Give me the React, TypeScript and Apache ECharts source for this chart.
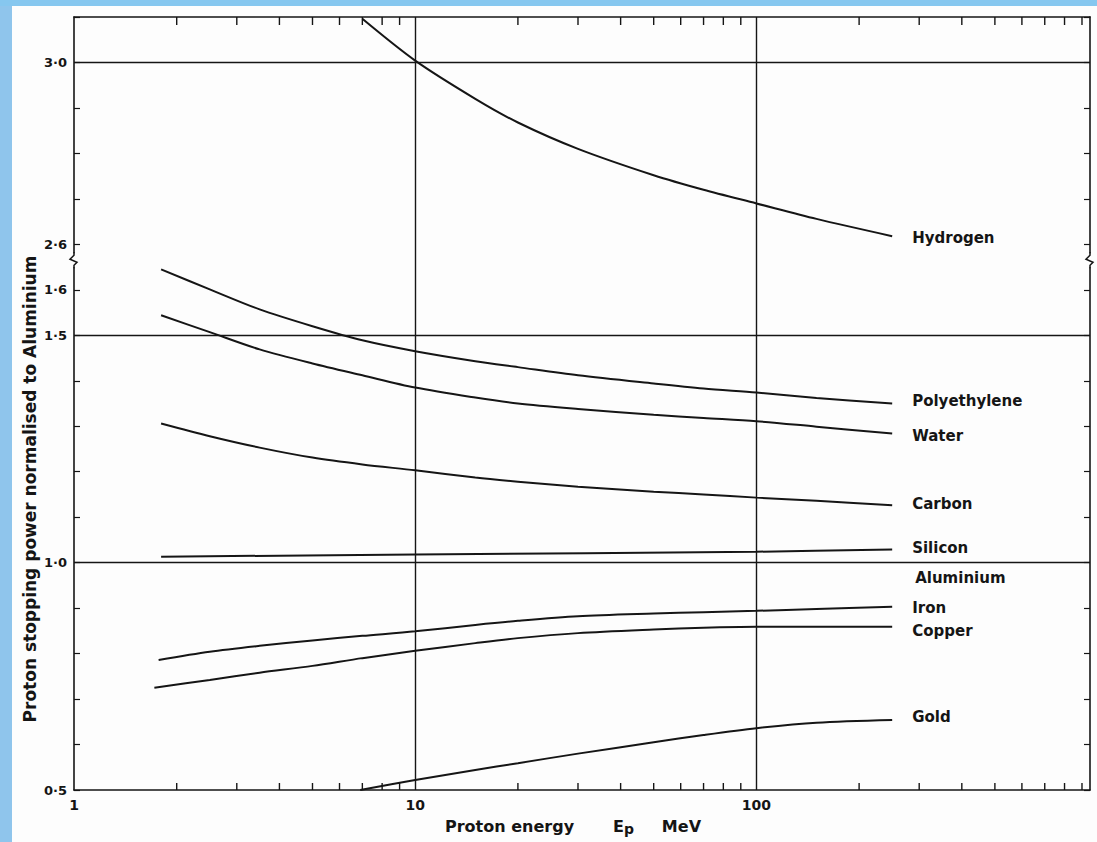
import React, { useEffect, useRef } from 'react';
import * as echarts from 'echarts';

// ---------- data ----------
// energies in MeV, values = proton stopping power normalised to aluminium
const hydrogen = [[7, 3.096], [10, 3.004], [15, 2.92], [20, 2.868], [30, 2.81], [50, 2.752], [70, 2.72], [100, 2.69], [150, 2.656], [250, 2.618]];
const polyethylene = [[1.8, 1.645], [2.5, 1.601], [3.5, 1.557], [5, 1.52], [7, 1.489], [10, 1.465], [15, 1.443], [20, 1.43], [30, 1.412], [50, 1.394], [70, 1.383], [100, 1.374], [150, 1.362], [250, 1.35]];
const water = [[1.8, 1.544], [2.5, 1.507], [3.5, 1.469], [5, 1.438], [7, 1.412], [10, 1.385], [15, 1.363], [20, 1.35], [30, 1.338], [50, 1.325], [70, 1.318], [100, 1.311], [150, 1.299], [250, 1.284]];
const carbon = [[1.8, 1.306], [2.5, 1.278], [3.5, 1.253], [5, 1.231], [7, 1.216], [10, 1.203], [15, 1.187], [20, 1.178], [30, 1.167], [50, 1.156], [70, 1.15], [100, 1.143], [150, 1.136], [250, 1.126]];
const silicon = [[1.8, 1.013], [10, 1.018], [100, 1.024], [250, 1.029]];
const iron = [[1.77, 0.786], [2.5, 0.804], [3.5, 0.817], [5, 0.829], [7, 0.839], [10, 0.849], [15, 0.863], [20, 0.872], [30, 0.882], [50, 0.888], [70, 0.891], [100, 0.894], [150, 0.898], [250, 0.903]];
const copper = [[1.72, 0.725], [2.5, 0.742], [3.5, 0.758], [5, 0.773], [7, 0.79], [10, 0.806], [15, 0.823], [20, 0.834], [30, 0.845], [50, 0.853], [70, 0.857], [100, 0.859], [150, 0.859], [250, 0.859]];
const gold = [[6.9, 0.5], [10, 0.522], [15, 0.544], [20, 0.559], [30, 0.58], [50, 0.605], [70, 0.621], [100, 0.636], [150, 0.648], [250, 0.654]];
const aluminium = [[250, 1.0]];

const seriesNames = ['Hydrogen', 'Polyethylene', 'Water', 'Carbon', 'Silicon', 'Iron', 'Copper', 'Gold'];
const seriesData = [hydrogen, polyethylene, water, carbon, silicon, iron, copper, gold];

// axis ticks / labels
const xTickLabels = [1, 10, 100];
const xMinorTicks = [2, 3, 4, 5, 6, 7, 8, 9, 20, 30, 40, 50, 60, 70, 80, 90, 200, 300, 400, 500, 600, 700, 800, 900];
const xGridLines = [10, 100];
const yLabelValues = [0.5, 1.0, 1.5, 1.6, 2.6, 3.0];
const yGridLines = [1.0, 1.5, 3.0];

// ---------- layout / style ----------
const BREAK_OFFSET = 0.9; // upper (broken) segment shifted down by this amount
const BREAK_LOW = 2.0; // real values above this belong to the upper segment
const BREAK_AT = 1.665; // plotted position of the axis break
const X_MIN = 1;
const X_MAX = 950;
const Y_MIN = 0.5;
const Y_MAX = 2.2;
const INK = '#151515';
const BG = '#fdfdfd';
const FONT = '"DejaVu Sans", "Open Sans", sans-serif';
const labelDy = [2, -3, 2, -1, -1, 1, 4, -3];

const toPlot = (v: number) => (v > BREAK_LOW ? v - BREAK_OFFSET : v);
const fromPlot = (t: number) => (t > BREAK_AT ? t + BREAK_OFFSET : t);

export default function App() {
  const ref = useRef<HTMLDivElement>(null);

  useEffect(() => {
    const chart = echarts.init(ref.current!, null, { renderer: 'svg' });

    const yFormatter = (value: number) => {
      const t = Math.round(value * 10) / 10;
      const real = Math.round(fromPlot(t) * 10) / 10;
      if (yLabelValues.some((v) => Math.abs(v - real) < 1e-6)) {
        return real.toFixed(1).replace('.', '·');
      }
      return '';
    };

    const seriesLabelStyle = {
      color: INK,
      fontFamily: FONT,
      fontWeight: 'bold',
      fontSize: 15,
      opacity: 1,
    };

    const lineSeries = seriesNames.map((name, i) => ({
      name,
      type: 'line',
      data: seriesData[i].map(([e, v]) => [e, toPlot(v)]),
      smooth: 0.3,
      symbol: 'none',
      clip: true,
      lineStyle: { color: INK, width: 2 },
      endLabel: {
        show: true,
        formatter: name,
        distance: 20,
        offset: [0, labelDy[i]],
        ...seriesLabelStyle,
      },
      markLine:
        i === 4
          ? {
              silent: true,
              symbol: ['none', 'none'],
              label: { show: false },
              lineStyle: { color: INK, width: 1.4, type: 'solid' },
              data: [
                ...xGridLines.map((x) => ({ xAxis: x })),
                ...yGridLines.map((y) => ({ yAxis: toPlot(y) })),
              ],
            }
          : undefined,
      z: 3,
    }));

    const option: any = {
      animation: false,
      backgroundColor: BG,
      grid: { left: 74, right: 7, top: 17, bottom: 52, containLabel: false, outerBoundsMode: 'none' },
      xAxis: [
        {
          type: 'log',
          logBase: 10,
          min: X_MIN,
          max: X_MAX,
          position: 'bottom',
          name: 'Proton energy       E{sub|p}     MeV',
          nameLocation: 'middle',
          nameGap: 26,
          nameTextStyle: {
            color: INK,
            fontFamily: FONT,
            fontWeight: 'bold',
            fontSize: 16,
            padding: [0, 18, 0, 0],
            rich: {
              sub: { fontSize: 14, fontFamily: FONT, fontWeight: 'bold', color: INK, verticalAlign: 'bottom', padding: [6, 0, 0, 0] },
            },
          },
          axisLine: { show: true, lineStyle: { color: INK, width: 1.6 } },
          axisTick: { show: false },
          axisLabel: {
            color: INK,
            fontFamily: FONT,
            fontWeight: 'bold',
            fontSize: 14,
            margin: 8,
            showMaxLabel: false,
            formatter: (v: number) => (xTickLabels.some((x) => Math.abs(x - v) < 1e-6) ? String(Math.round(v)) : ''),
          },
          splitLine: { show: false },
        },
        {
          type: 'log',
          logBase: 10,
          min: X_MIN,
          max: X_MAX,
          position: 'top',
          axisLine: { show: true, lineStyle: { color: INK, width: 1.6 } },
          axisTick: { show: false },
          axisLabel: { show: false },
          splitLine: { show: false },
        },
      ],
      yAxis: [
        {
          type: 'value',
          min: Y_MIN,
          max: Y_MAX,
          interval: 0.1,
          position: 'left',
          axisLine: { show: true, lineStyle: { color: INK, width: 1.6 } },
          axisTick: { show: true, inside: true, length: 6, lineStyle: { color: INK, width: 1.2 } },
          axisLabel: {
            color: INK,
            fontFamily: FONT,
            fontWeight: 'bold',
            fontSize: 13,
            margin: 7,
            formatter: yFormatter,
          },
          splitLine: { show: false },
        },
        {
          type: 'value',
          min: Y_MIN,
          max: Y_MAX,
          interval: 0.1,
          position: 'right',
          axisLine: { show: true, lineStyle: { color: INK, width: 1.6 } },
          axisTick: { show: true, inside: true, length: 6, lineStyle: { color: INK, width: 1.2 } },
          axisLabel: { show: false },
          splitLine: { show: false },
        },
      ],
      series: [
        ...lineSeries,
        {
          name: 'Aluminium',
          type: 'scatter',
          data: aluminium,
          symbolSize: 0,
          silent: true,
          itemStyle: { opacity: 1 },
          label: {
            show: true,
            formatter: 'Aluminium',
            position: 'right',
            distance: 23,
            offset: [0, 15],
            ...seriesLabelStyle,
          },
        },
        {
          name: 'minorTicks',
          type: 'custom',
          silent: true,
          clip: false,
          data: xMinorTicks.map((v) => [v, Y_MIN]),
          renderItem: (params: any, api: any) => {
            const v = api.value(0);
            const b = api.coord([v, Y_MIN]);
            const t = api.coord([v, Y_MAX]);
            return {
              type: 'group',
              children: [
                { type: 'line', shape: { x1: b[0], y1: b[1], x2: b[0], y2: b[1] - 7 }, style: { stroke: INK, lineWidth: 1.4 } },
                { type: 'line', shape: { x1: t[0], y1: t[1], x2: t[0], y2: t[1] + 8 }, style: { stroke: INK, lineWidth: 1.4 } },
              ],
            };
          },
        },
      ],
    };

    chart.setOption(option);

    const pl = chart.convertToPixel({ gridIndex: 0 }, [X_MIN, BREAK_AT]) as number[];
    const pr = chart.convertToPixel({ gridIndex: 0 }, [X_MAX, BREAK_AT]) as number[];
    const breakMark = (p: number[]) => [
      { type: 'rect', shape: { x: p[0] - 3, y: p[1] - 7, width: 6, height: 14 }, style: { fill: BG }, z: 10 },
      {
        type: 'polyline',
        shape: {
          points: [
            [p[0], p[1] - 8],
            [p[0], p[1] - 5],
            [p[0] - 4, p[1] - 1],
            [p[0] + 3, p[1] + 2],
            [p[0], p[1] + 5],
            [p[0], p[1] + 8],
          ],
        },
        style: { stroke: INK, lineWidth: 1.5, fill: 'none' },
        z: 11,
      },
    ];

    chart.setOption({
      graphic: [
        { type: 'rect', shape: { x: 0, y: 0, width: 12, height: 842 }, style: { fill: '#8fc5ec' }, z: 20 },
        { type: 'rect', shape: { x: 0, y: 0, width: 1097, height: 6 }, style: { fill: '#86c7ef' }, z: 20 },
        ...breakMark(pl),
        ...breakMark(pr),
        {
          type: 'text',
          x: 30,
          y: 489,
          rotation: Math.PI / 2,
          style: {
            text: 'Proton stopping power normalised to Aluminium',
            fill: INK,
            font: `bold 17px ${FONT}`,
            align: 'center',
            verticalAlign: 'middle',
          },
          z: 12,
        },
      ],
    });

    return () => chart.dispose();
  }, []);

  return <div ref={ref} style={{ position: 'fixed', left: 0, top: 0, width: 1097, height: 842 }} />;
}
